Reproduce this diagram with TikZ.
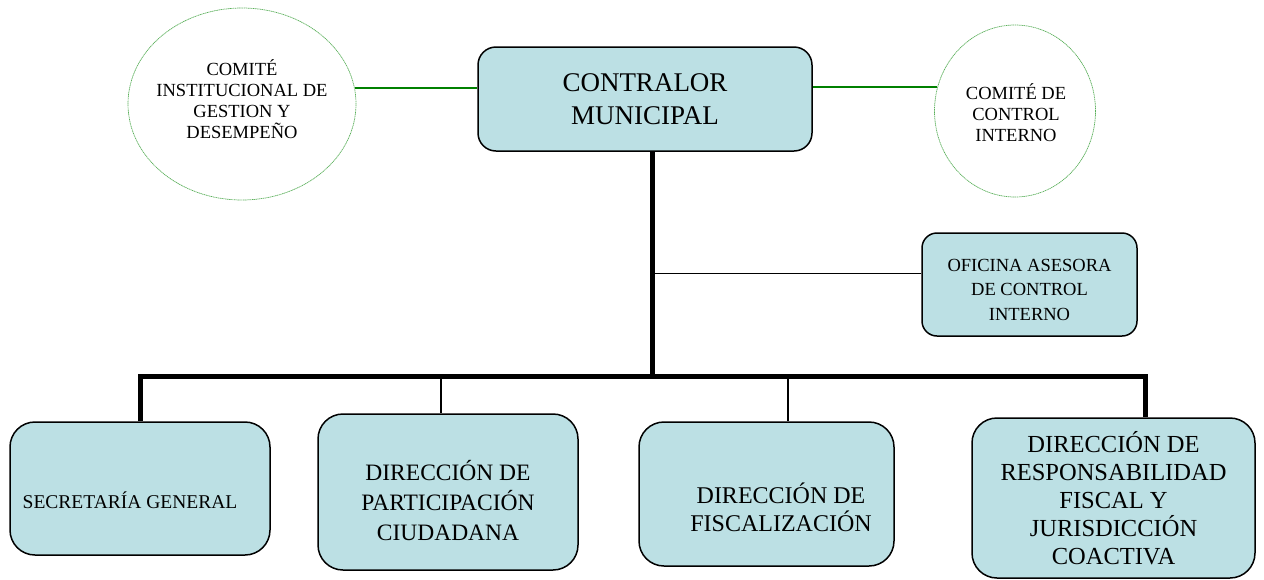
\documentclass[tikz,border=0pt]{standalone}
\usepackage{fontspec}
\setmainfont{Liberation Serif}
\usetikzlibrary{shapes.geometric}
\definecolor{boxfill}{RGB}{188,224,228}
\definecolor{linegreen}{RGB}{0,128,0}
\definecolor{ellgreen}{RGB}{90,175,90}
\tikzset{
  orgbox/.style={draw=black, line width=1.5pt, fill=boxfill, rounded corners=#1, inner sep=0pt},
  orgbox/.default=25pt,
  comite/.style={ellipse, draw=ellgreen, line width=0.7pt, dash pattern=on 1.2pt off 0.6pt, inner sep=0pt},
  greenline/.style={draw=linegreen, line width=2.2pt},
  heavyline/.style={draw=black, line width=5pt},
  lightline/.style={draw=black, line width=1.3pt},
  lbl/.style={align=center, inner sep=0pt}
}
\begin{document}
\begin{tikzpicture}[x=1pt,y=-1pt]
\useasboundingbox (0,0) rectangle (1264,579);
% top
\node[orgbox=18pt, minimum width=334pt, minimum height=104pt, align=center,
      font=\fontsize{27}{33}\selectfont] (contralor) at (645,99) {CONTRALOR\\MUNICIPAL};
\node[comite, minimum width=228pt, minimum height=192pt] (izq) at (242,104) {};
\node[lbl, font=\fontsize{18.5}{21}\selectfont] (izqT) at (242,99.5)
      {COMITÉ\\INSTITUCIONAL DE\\GESTION Y\\DESEMPEÑO};
\node[comite, minimum width=161pt, minimum height=172pt] (der) at (1015,111) {};
\node[lbl, font=\fontsize{18.5}{21}\selectfont] (derT) at (1016,113)
      {COMITÉ DE\\CONTROL\\INTERNO};
\coordinate (izqR) at (izq.8);
\coordinate (derL) at (der.163.5);
\draw[greenline] (izqR) -- (izqR -| contralor.west);
\draw[greenline] (derL -| contralor.east) -- (derL);
% oficina
\node[orgbox=15pt, minimum width=215pt, minimum height=103pt] (ofi) at (1029.5,284.5) {};
\node[lbl, font=\fontsize{18.5}{24.5}\selectfont] (ofiT) at ([yshift=-5pt]ofi.center)
      {OFICINA ASESORA\\DE CONTROL\\INTERNO};
% bottom boxes
\node[orgbox, minimum width=260pt, minimum height=133pt] (sec) at (140,488.5) {};
\node[lbl, font=\fontsize{19.5}{24}\selectfont] (secT) at (130,500) {SECRETARÍA GENERAL};
\node[orgbox, minimum width=260pt, minimum height=156pt] (par) at (448,492) {};
\node[lbl, font=\fontsize{23.5}{30}\selectfont] (parT) at (448,500.5)
      {DIRECCIÓN DE\\PARTICIPACIÓN\\CIUDADANA};
\node[orgbox, minimum width=255pt, minimum height=144pt] (fis) at (766.5,494) {};
\node[lbl, font=\fontsize{24}{28}\selectfont] (fisT) at (781,507)
      {DIRECCIÓN DE\\FISCALIZACIÓN};
\node[orgbox, minimum width=283pt, minimum height=160pt] (res) at (1113.5,498) {};
\node[lbl, font=\fontsize{24.5}{28}\selectfont] (resT) at (1113.5,498.5)
      {DIRECCIÓN DE\\RESPONSABILIDAD\\FISCAL Y\\JURISDICCIÓN\\COACTIVA};
% connectors
\coordinate (j) at (652,376);
\coordinate (busR) at (1145,376);
\coordinate (dp) at (441,376);
\coordinate (df) at (788,376);
\coordinate (ofiL) at ([yshift=11pt]ofi.west);
\draw[lightline] (ofiL) -- (ofiL -| j);
\draw[heavyline] (contralor.south -| j) -- (j);
\draw[heavyline] (sec.north) |- (busR) -- (busR |- res.north);
\draw[lightline] (dp) -- (dp |- par.north);
\draw[lightline] (df) -- (df |- fis.north);
\end{tikzpicture}
\end{document}
